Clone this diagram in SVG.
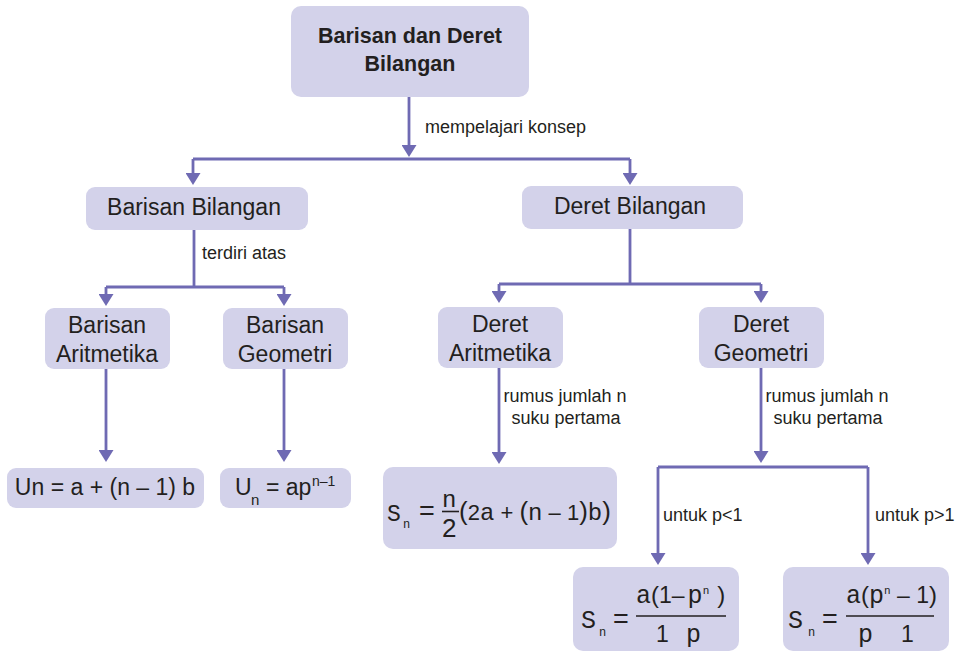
<svg xmlns="http://www.w3.org/2000/svg" width="964" height="653" viewBox="0 0 964 653">
<style>
.box{fill:#d3d2ea}
.t{font-family:"Liberation Sans",Arial,sans-serif;fill:#231f20}
.node{font-size:23px;text-anchor:middle}
.title{font-size:21.5px;font-weight:bold;text-anchor:middle}
.lbl{font-family:"Liberation Sans",Arial,sans-serif;font-size:18px;fill:#231f20}
.m{font-family:"Liberation Mono","Courier New",monospace;fill:#231f20}
.c{fill:none;stroke:#6f6ab3;stroke-width:2.8}
.bar{stroke:#231f20;stroke-width:1.6}
</style>
<defs>
<marker id="ah" viewBox="0 0 12 15" refX="6" refY="7.5" markerWidth="12" markerHeight="15" markerUnits="userSpaceOnUse" orient="auto">
<path d="M0,0 L12,7.5 L0,15 z" fill="#6f6ab3"/>
</marker>
</defs>
<rect width="964" height="653" fill="#ffffff"/>

<g id="connectors">
<path class="c" d="M409,97 V151" marker-end="url(#ah)"/>
<path class="c" d="M193,159 H630"/>
<path class="c" d="M193,159 V179" marker-end="url(#ah)"/>
<path class="c" d="M630,159 V179" marker-end="url(#ah)"/>
<path class="c" d="M194,230 V287"/>
<path class="c" d="M106,287 H284"/>
<path class="c" d="M106,287 V300" marker-end="url(#ah)"/>
<path class="c" d="M284,287 V300" marker-end="url(#ah)"/>
<path class="c" d="M630,229 V284"/>
<path class="c" d="M499,284 H761"/>
<path class="c" d="M499,284 V297" marker-end="url(#ah)"/>
<path class="c" d="M761,284 V297" marker-end="url(#ah)"/>
<path class="c" d="M106,369 V456" marker-end="url(#ah)"/>
<path class="c" d="M284,369 V456" marker-end="url(#ah)"/>
<path class="c" d="M499,368 V458" marker-end="url(#ah)"/>
<path class="c" d="M761,368 V457" marker-end="url(#ah)"/>
<path class="c" d="M658,467 H868"/>
<path class="c" d="M658,467 V559" marker-end="url(#ah)"/>
<path class="c" d="M868,467 V559" marker-end="url(#ah)"/>
<text class="lbl" x="425" y="133">mempelajari konsep</text>
<text class="lbl" x="202" y="259">terdiri atas</text>
<text class="lbl" x="565" y="402" text-anchor="middle">rumus jumlah n</text>
<text class="lbl" x="566" y="424" text-anchor="middle">suku pertama</text>
<text class="lbl" x="827" y="402" text-anchor="middle">rumus jumlah n</text>
<text class="lbl" x="828" y="424" text-anchor="middle">suku pertama</text>
<text class="lbl" x="663" y="521">untuk p&lt;1</text>
<text class="lbl" x="875" y="521">untuk p&gt;1</text>
</g>

<g id="n-root">
<rect class="box" x="291" y="6" width="238" height="91" rx="10"/>
<text class="t title" x="410" y="43">Barisan dan Deret</text>
<text class="t title" x="410" y="71">Bilangan</text>
</g>

<g id="n-barisan">
<rect class="box" x="86" y="187" width="222" height="43" rx="9"/>
<text class="t node" x="194" y="215">Barisan Bilangan</text>
</g>

<g id="n-deret">
<rect class="box" x="522" y="186" width="221" height="43" rx="9"/>
<text class="t node" x="630" y="214">Deret Bilangan</text>
</g>

<g id="n-bar-arit">
<rect class="box" x="45" y="308" width="125" height="61" rx="9"/>
<text class="t node" x="107" y="333">Barisan</text>
<text class="t node" x="107" y="362">Aritmetika</text>
</g>

<g id="n-bar-geo">
<rect class="box" x="223" y="308" width="125" height="61" rx="9"/>
<text class="t node" x="285" y="333">Barisan</text>
<text class="t node" x="285" y="362">Geometri</text>
</g>

<g id="n-der-arit">
<rect class="box" x="438" y="307" width="125" height="61" rx="9"/>
<text class="t node" x="500" y="332">Deret</text>
<text class="t node" x="500" y="361">Aritmetika</text>
</g>

<g id="n-der-geo">
<rect class="box" x="699" y="307" width="125" height="61" rx="9"/>
<text class="t node" x="761" y="332">Deret</text>
<text class="t node" x="761" y="361">Geometri</text>
</g>

<g id="n-un-arit">
<rect class="box" x="7" y="468" width="197" height="40" rx="9"/>
<text class="t" x="105" y="495" font-size="23" text-anchor="middle">Un = a + (n – 1) b</text>
</g>

<g id="n-un-geo">
<rect class="box" x="220" y="468" width="131" height="40" rx="9"/>
<text class="t" x="235" y="495" font-size="23">U</text>
<text class="t" x="251" y="505" font-size="15">n</text>
<text class="t" x="266" y="495" font-size="23">= ap</text>
<text class="t" x="312" y="486" font-size="14">n–1</text>
</g>

<g id="n-sn-arit">
<rect class="box" x="383" y="467" width="234" height="82" rx="10"/>
<text class="m" x="387" y="521" font-size="23">S</text>
<text class="m" x="403" y="528" font-size="12">n</text>
<text class="t" x="419" y="520" font-size="27">=</text>
<text class="m" x="442" y="507" font-size="24">n</text>
<line class="bar" x1="442" y1="511.5" x2="459" y2="511.5"/>
<text class="t" x="442" y="537" font-size="26">2</text>
<text class="t" x="459" y="520" font-size="22" xml:space="preserve"><tspan font-size="26">(</tspan>2<tspan class="m" font-size="24">a</tspan> + <tspan font-size="26">(</tspan><tspan class="m" font-size="24">n</tspan> – 1<tspan font-size="26">)</tspan><tspan class="m" font-size="24">b</tspan><tspan font-size="26">)</tspan></text>
</g>

<g id="n-sn-geo-lt">
<rect class="box" x="573" y="567" width="166" height="84" rx="10"/>
<text class="m" x="581" y="628" font-size="25">S</text>
<text class="m" x="599" y="636" font-size="12">n</text>
<text class="t" x="613" y="628" font-size="27">=</text>
<text class="t" x="636" y="603" font-size="23"><tspan class="m" font-size="25">a</tspan><tspan font-size="24">(</tspan>1–<tspan class="m" font-size="25" dx="3">p</tspan><tspan class="m" font-size="11" dy="-9">n</tspan><tspan font-size="24" dx="8" dy="9">)</tspan></text>
<line class="bar" x1="636" y1="616" x2="726" y2="616"/>
<text class="t" x="656" y="642" font-size="23">1</text>
<text class="m" x="686" y="642" font-size="25">p</text>
</g>

<g id="n-sn-geo-gt">
<rect class="box" x="783" y="567" width="166" height="84" rx="10"/>
<text class="m" x="788" y="628" font-size="25">S</text>
<text class="m" x="808" y="636" font-size="12">n</text>
<text class="t" x="822" y="628" font-size="27">=</text>
<text class="t" x="846" y="603" font-size="23" xml:space="preserve"><tspan class="m" font-size="25">a</tspan><tspan font-size="24">(</tspan><tspan class="m" font-size="25">p</tspan><tspan class="m" font-size="11" dy="-9">n</tspan><tspan dy="9"> – 1</tspan><tspan font-size="24">)</tspan></text>
<line class="bar" x1="846" y1="616" x2="934" y2="616"/>
<text class="m" x="858" y="642" font-size="25">p</text>
<text class="t" x="901" y="642" font-size="23">1</text>
</g>
</svg>
